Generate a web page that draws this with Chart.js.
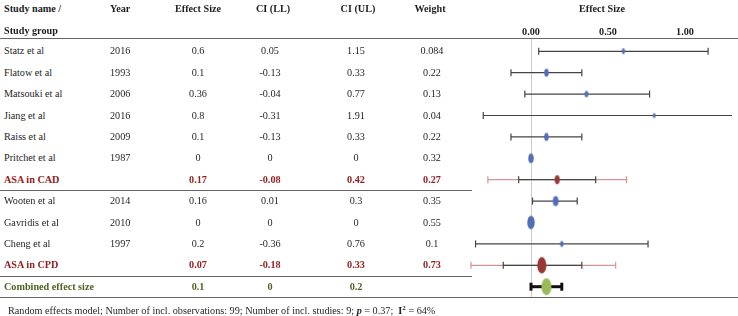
<!DOCTYPE html>
<html>
<head>
    <title>Effect Size forest plot</title>
    <script src="https://cdn.jsdelivr.net/npm/chart.js"></script>
    <style>
        body {
            margin: 0;
            background: #ffffff;
            font-family: "Liberation Serif", "Times New Roman", serif;
        }
        #page {
            position: relative;
            width: 738px;
            height: 316px;
            overflow: hidden;
            background: #ffffff;
        }
        .cell {
            position: absolute;
            font-size: 10.2px;
            line-height: 14px;
            height: 14px;
            white-space: nowrap;
            color: #1e1e1e;
        }
        .bold { font-weight: bold; }
        .subtotal { color: #962020; font-weight: bold; }
        .total { color: #4d6322; font-weight: bold; }
        .rule {
            position: absolute;
            height: 0;
            border-top: 1.3px solid #666666;
        }
        #forest {
            position: absolute;
            left: 468px;
            top: 0;
        }
    </style>
</head>
<body>
<div id="page">
    <canvas id="forest" width="264" height="297"></canvas>
</div>

<script>
    // table data
    const rowLabels = ['Statz et al', 'Flatow et al', 'Matsouki et al', 'Jiang et al', 'Raiss et al', 'Pritchet et al',
        'ASA in CAD', 'Wooten et al', 'Gavridis et al', 'Cheng et al', 'ASA in CPD', 'Combined effect size'];
    const rowYears = ['2016', '1993', '2006', '2016', '2009', '1987', '', '2014', '2010', '1997', '', ''];
    const rowKinds = ['study', 'study', 'study', 'study', 'study', 'study', 'subtotal',
        'study', 'study', 'study', 'subtotal', 'total'];
    const effectSizes = [0.6, 0.1, 0.36, 0.8, 0.1, 0, 0.17, 0.16, 0, 0.2, 0.07, 0.1];
    const ciLower = [0.05, -0.13, -0.04, -0.31, -0.13, 0, -0.08, 0.01, 0, -0.36, -0.18, 0];
    const ciUpper = [1.15, 0.33, 0.77, 1.91, 0.33, 0, 0.42, 0.3, 0, 0.76, 0.33, 0.2];
    const weights = [0.084, 0.22, 0.13, 0.04, 0.22, 0.32, 0.27, 0.35, 0.55, 0.1, 0.73, null];
    // prediction intervals shown on the subgroup rows
    const piLower = [null, null, null, null, null, null, -0.28, null, null, null, -0.39, null];
    const piUpper = [null, null, null, null, null, null, 0.62, null, null, null, 0.55, null];
    const axisTicks = [0, 0.5, 1];
    const footerHtml = 'Random effects model; Number of incl. observations: 99; Number of incl. studies: 9; ' +
        '<b><i>p</i></b> = 0.37;&nbsp; <b>I<sup style="font-size:7px">2</sup></b> = 64%';

    // layout
    const firstRowY = 51.3, rowStep = 21.4;
    const headerLineY = 38, bottomLineY = 297;
    const rowY = i => firstRowY + rowStep * i;

    const page = document.getElementById('page');

    function addText(html, cls, x, cy, align) {
        const d = document.createElement('div');
        d.className = 'cell ' + (cls || '');
        d.innerHTML = html;
        d.style.top = (cy - 7) + 'px';
        if (align === 'center') {
            d.style.left = (x - 50) + 'px';
            d.style.width = '100px';
            d.style.textAlign = 'center';
        } else {
            d.style.left = x + 'px';
        }
        page.appendChild(d);
    }

    function addRule(x1, x2, y) {
        const d = document.createElement('div');
        d.className = 'rule';
        d.style.left = x1 + 'px';
        d.style.width = (x2 - x1) + 'px';
        d.style.top = y + 'px';
        page.appendChild(d);
    }

    // headers
    addText('Study name /', 'bold', 4, 9);
    addText('Study group', 'bold', 4, 31);
    addText('Year', 'bold', 110, 9);
    addText('Effect Size', 'bold', 198, 9, 'center');
    addText('CI (LL)', 'bold', 273, 9, 'center');
    addText('CI (UL)', 'bold', 358, 9, 'center');
    addText('Weight', 'bold', 430, 9, 'center');
    addText('Effect Size', 'bold', 602, 9, 'center');

    rowLabels.forEach((label, i) => {
        const cls = rowKinds[i] === 'study' ? '' : rowKinds[i];
        const y = rowY(i);
        addText(label, cls, 4, y);
        addText(rowYears[i], cls, 110, y);
        addText(String(effectSizes[i]), cls, 198, y, 'center');
        addText(String(ciLower[i]), cls, 270, y, 'center');
        addText(String(ciUpper[i]), cls, 356, y, 'center');
        if (weights[i] !== null) addText(String(weights[i]), cls, 432, y, 'center');
        if (rowKinds[i] === 'subtotal') addRule(0, 472, y + 10.5);
    });

    addRule(0, 738, headerLineY);
    addRule(0, 738, bottomLineY);
    addText(footerHtml, '', 8, 308);

    // forest plot
    const markerColors = { study: '#4f6fb8', subtotal: '#973633', total: '#9bbb59' };

    function ellipse(w, h, color) {
        const c = document.createElement('canvas');
        c.width = Math.ceil(w) + 2;
        c.height = Math.ceil(h) + 2;
        const g = c.getContext('2d');
        g.fillStyle = color;
        g.beginPath();
        g.ellipse(c.width / 2, c.height / 2, w / 2, h / 2, 0, 0, Math.PI * 2);
        g.fill();
        return c;
    }

    const markerImages = rowKinds.map((kind, i) => {
        if (kind === 'total') return ellipse(10, 17, markerColors.total);
        const w = 2.5 + 9 * weights[i];
        return ellipse(w, w * 1.8, markerColors[kind]);
    });

    function intervalSet(lo, hi, i, color, width, capRadius, order) {
        return {
            type: 'line',
            data: [{ x: lo, y: i }, { x: hi, y: i }],
            borderColor: color,
            borderWidth: width,
            pointStyle: 'line',
            pointRotation: 90,
            pointRadius: capRadius,
            pointBorderColor: color,
            pointBorderWidth: width,
            pointBackgroundColor: color,
            tension: 0,
            fill: false,
            order: order
        };
    }

    const datasets = [];
    rowLabels.forEach((label, i) => {
        if (piLower[i] !== null) {
            datasets.push(intervalSet(piLower[i], piUpper[i], i, '#d39494', 1.2, 3.5, 3));
        }
        if (ciLower[i] === ciUpper[i]) return;
        if (rowKinds[i] === 'total') {
            datasets.push(intervalSet(ciLower[i], ciUpper[i], i, '#111111', 3, 4, 2));
        } else {
            datasets.push(intervalSet(ciLower[i], ciUpper[i], i, '#454545', 1.2, 3.5, 2));
        }
    });
    datasets.push({
        type: 'scatter',
        data: effectSizes.map((v, i) => ({ x: v, y: i })),
        pointStyle: markerImages,
        pointRadius: 5,
        order: 0
    });

    const plotWidth = 264;
    const zeroPx = 531 - 468, pxPerUnit = 154;

    new Chart(document.getElementById('forest'), {
        data: { datasets: datasets },
        options: {
            responsive: false,
            animation: false,
            layout: { padding: 0, autoPadding: false },
            plugins: {
                legend: { display: false },
                tooltip: { enabled: false }
            },
            scales: {
                x: {
                    type: 'linear',
                    position: 'top',
                    min: -zeroPx / pxPerUnit,
                    max: (plotWidth - zeroPx) / pxPerUnit,
                    afterFit: s => { s.height = headerLineY; },
                    afterBuildTicks: s => { s.ticks = axisTicks.map(v => ({ value: v })); },
                    ticks: {
                        callback: v => Number(v).toFixed(2),
                        font: { family: '"Liberation Serif", serif', size: 10.2, weight: 'bold' },
                        color: '#1e1e1e',
                        padding: 0,
                        maxRotation: 0
                    },
                    grid: {
                        color: c => (c.tick && c.tick.value === 0) ? '#cccccc' : 'rgba(0,0,0,0)',
                        drawTicks: false,
                        lineWidth: 1
                    },
                    border: { display: false }
                },
                y: {
                    type: 'linear',
                    display: false,
                    reverse: true,
                    min: (headerLineY - firstRowY) / rowStep,
                    max: (bottomLineY - firstRowY) / rowStep
                }
            }
        }
    });
</script>
</body>
</html>
